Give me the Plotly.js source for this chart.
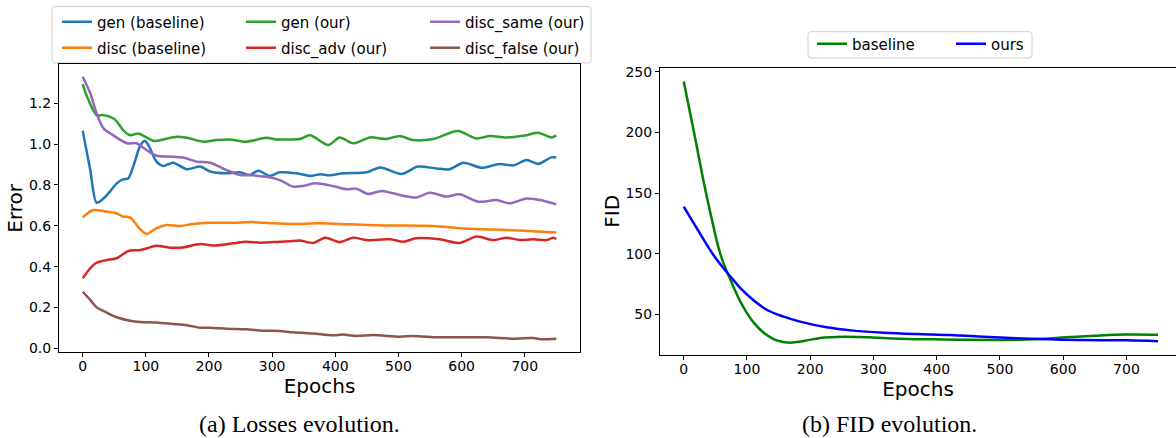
<!DOCTYPE html>
<html>
<head>
<meta charset="utf-8">
<script src="https://cdn.plot.ly/plotly-3.0.1.min.js"></script>
<style>
html,body{margin:0;padding:0;background:#fff;overflow:hidden;}
#chart{width:1176px;height:438px;}
</style>
</head>
<body>
<div id="chart"></div>
<script>
// ---- Losses (left panel) ----
const genBaseX = [0, 12, 22, 33, 43, 54, 64, 72, 80, 91, 98, 104, 117, 128, 143, 165, 186, 202, 228, 249, 265, 278, 296, 312, 339, 360, 376, 391, 413, 450, 471, 505, 531, 560, 581, 603, 632, 660, 682, 703, 721, 742, 750];
const genBaseY = [1.066, 0.873, 0.713, 0.734, 0.767, 0.808, 0.827, 0.832, 0.890, 0.991, 1.017, 0.996, 0.914, 0.893, 0.909, 0.877, 0.890, 0.866, 0.857, 0.862, 0.849, 0.870, 0.844, 0.862, 0.857, 0.844, 0.852, 0.847, 0.857, 0.862, 0.886, 0.854, 0.890, 0.881, 0.877, 0.909, 0.884, 0.903, 0.896, 0.922, 0.903, 0.935, 0.935];

const discBaseX = [0, 17, 38, 51, 64, 75, 91, 101, 117, 133, 154, 175, 202, 238, 270, 301, 333, 376, 423, 476, 555, 597, 634, 671, 713, 750];
const discBaseY = [0.641, 0.677, 0.669, 0.664, 0.645, 0.641, 0.583, 0.560, 0.588, 0.604, 0.599, 0.609, 0.615, 0.615, 0.618, 0.612, 0.609, 0.612, 0.607, 0.602, 0.599, 0.588, 0.583, 0.580, 0.573, 0.567];

const genOurX = [0, 7, 22, 33, 51, 64, 75, 88, 101, 114, 128, 149, 165, 191, 212, 233, 259, 291, 307, 328, 344, 360, 389, 407, 428, 455, 481, 502, 523, 555, 594, 623, 645, 671, 703, 721, 742, 750];
const genOurY = [1.294, 1.232, 1.142, 1.142, 1.121, 1.069, 1.044, 1.052, 1.033, 1.015, 1.023, 1.036, 1.031, 1.012, 1.020, 1.023, 1.012, 1.031, 1.023, 1.023, 1.025, 1.044, 0.996, 1.033, 1.004, 1.033, 1.025, 1.040, 1.020, 1.025, 1.064, 1.028, 1.040, 1.033, 1.044, 1.056, 1.033, 1.043];

const discAdvX = [0, 12, 22, 38, 54, 72, 91, 101, 117, 138, 159, 186, 207, 238, 259, 281, 312, 333, 344, 365, 384, 407, 428, 450, 487, 508, 528, 565, 597, 624, 650, 671, 692, 713, 735, 745, 750];
const discAdvY = [0.343, 0.392, 0.419, 0.432, 0.441, 0.476, 0.481, 0.489, 0.502, 0.493, 0.494, 0.511, 0.504, 0.514, 0.522, 0.517, 0.522, 0.525, 0.528, 0.516, 0.542, 0.520, 0.542, 0.530, 0.534, 0.522, 0.539, 0.534, 0.516, 0.547, 0.530, 0.542, 0.530, 0.534, 0.530, 0.542, 0.535];

const discSameX = [0, 12, 22, 33, 48, 70, 85, 101, 117, 138, 159, 181, 202, 228, 249, 270, 291, 312, 333, 349, 367, 396, 418, 433, 452, 473, 502, 528, 550, 576, 597, 626, 655, 676, 703, 724, 750];
const discSameY = [1.330, 1.249, 1.151, 1.077, 1.044, 1.004, 1.004, 0.971, 0.943, 0.939, 0.934, 0.914, 0.909, 0.873, 0.849, 0.847, 0.840, 0.824, 0.792, 0.795, 0.808, 0.795, 0.779, 0.782, 0.756, 0.771, 0.751, 0.739, 0.762, 0.743, 0.754, 0.718, 0.726, 0.710, 0.734, 0.726, 0.705];

const discFalseX = [0, 12, 22, 38, 54, 75, 91, 117, 143, 165, 186, 207, 228, 259, 286, 312, 333, 365, 396, 412, 433, 460, 502, 523, 565, 639, 682, 713, 729, 750];
const discFalseY = [0.277, 0.237, 0.201, 0.175, 0.152, 0.135, 0.129, 0.126, 0.119, 0.113, 0.101, 0.100, 0.096, 0.093, 0.086, 0.085, 0.078, 0.072, 0.064, 0.067, 0.060, 0.065, 0.057, 0.060, 0.054, 0.054, 0.047, 0.050, 0.044, 0.047];

// ---- FID (right panel) ----
const fidBaseX = [0, 17, 34, 45, 55, 63, 71, 80, 90, 100, 110, 126, 147, 168, 190, 216, 253, 290, 342, 395, 500, 560, 605, 650, 700, 750];
const fidBaseY = [242, 198, 153, 127, 105, 92, 82, 71, 60, 51, 43.5, 35, 28.5, 26.6, 28, 30.5, 31.5, 31, 29.9, 29.3, 28.8, 29.5, 31, 32.3, 33.3, 33];

const fidOursX = [0, 16, 32, 47, 63, 74, 90, 110, 132, 158, 184, 226, 268, 316, 368, 421, 474, 526, 579, 626, 700, 750];
const fidOursY = [138.7, 125.0, 111.2, 98.9, 87.9, 81.0, 71.4, 61.8, 53.5, 48.0, 43.9, 39.2, 36.5, 34.8, 33.7, 32.9, 31.5, 30.2, 29.3, 28.8, 28.5, 27.8];

const tickVals = [0, 100, 200, 300, 400, 500, 600, 700];
const lossTicks = [0.0, 0.2, 0.4, 0.6, 0.8, 1.0, 1.2];
const fidTicks = [50, 100, 150, 200, 250];

const W = 1176, H = 438;
const FONT = 'DejaVu Sans, sans-serif';
const LW = 2.5;

function tr(x, y, name, color, legend, xa, ya, sm) {
  return {x: x, y: y, name: name, type: 'scatter', mode: 'lines',
          line: {color: color, width: LW, shape: 'spline', smoothing: sm},
          legend: legend, xaxis: xa, yaxis: ya, hoverinfo: 'skip'};
}

const data = [
  tr(genBaseX, genBaseY, 'gen (baseline)', '#1f77b4', 'legend', 'x', 'y', 0.8),
  tr(discBaseX, discBaseY, 'disc (baseline)', '#ff7f0e', 'legend3', 'x', 'y', 0.8),
  tr(genOurX, genOurY, 'gen (our)', '#2ca02c', 'legend', 'x', 'y', 0.8),
  tr(discAdvX, discAdvY, 'disc_adv (our)', '#d62728', 'legend3', 'x', 'y', 0.8),
  tr(discSameX, discSameY, 'disc_same (our)', '#9467bd', 'legend', 'x', 'y', 0.8),
  tr(discFalseX, discFalseY, 'disc_false (our)', '#8c564b', 'legend3', 'x', 'y', 0.8),
  tr(fidBaseX, fidBaseY, 'baseline', '#008000', 'legend2', 'x2', 'y2', 1),
  tr(fidOursX, fidOursY, 'ours', '#0000ff', 'legend2', 'x2', 'y2', 1)
];

const px = v => v / W;
const py = v => 1 - v / H;

function axisCommon() {
  return {showgrid: false, zeroline: false, showline: true, linecolor: '#000', linewidth: 1,
          ticks: 'outside', ticklen: 4, tickwidth: 1, tickcolor: '#000',
          tickfont: {family: FONT, size: 14, color: '#000'}, automargin: false};
}

function legendCommon(x, y, ew) {
  return {orientation: 'h', x: px(x), y: py(y), xanchor: 'left', yanchor: 'middle',
          xref: 'paper', yref: 'paper',
          bgcolor: 'rgba(0,0,0,0)', borderwidth: 0,
          font: {family: FONT, size: 15, color: '#000'},
          entrywidth: ew, entrywidthmode: 'pixels', itemclick: false, itemdoubleclick: false};
}

const titleFont = {family: FONT, size: 20, color: '#000'};

const layout = {
  width: W, height: H,
  margin: {l: 0, r: 0, t: 0, b: 0, pad: 0},
  paper_bgcolor: '#fff', plot_bgcolor: '#fff',
  showlegend: true,
  xaxis: Object.assign(axisCommon(), {
    domain: [px(59), px(580)], range: [-37.5, 787.5], anchor: 'y', mirror: true,
    tickvals: tickVals, ticklabelstandoff: -3,
    title: {text: 'Epochs', font: titleFont, standoff: 0}
  }),
  yaxis: Object.assign(axisCommon(), {
    domain: [py(352.3), py(64.3)], range: [-0.0196, 1.391], anchor: 'x', mirror: true,
    tickvals: lossTicks, tickformat: '.1f',
    title: {text: 'Error', font: titleFont, standoff: 0}
  }),
  xaxis2: Object.assign(axisCommon(), {
    domain: [px(660), 1], range: [-37.5, 778.4], anchor: 'y2', mirror: true,
    tickvals: tickVals, ticklabelstandoff: -3,
    title: {text: 'Epochs', font: titleFont, standoff: 0}
  }),
  yaxis2: Object.assign(axisCommon(), {
    domain: [py(355), py(67.5)], range: [16.4, 253.5], anchor: 'x2', mirror: false,
    tickvals: fidTicks,
    title: {text: 'FID', font: titleFont, standoff: 0}
  }),
  legend: legendCommon(57, 22, 139),
  legend3: legendCommon(57, 48, 139),
  legend2: legendCommon(812, 44, 94),
  shapes: [],
  annotations: [
    {text: '(a) Losses evolution.', xref: 'paper', yref: 'paper', x: px(299), y: py(424),
     xanchor: 'center', yanchor: 'middle', showarrow: false,
     font: {family: 'Liberation Serif, Times New Roman, serif', size: 24, color: '#000'}},
    {text: '(b) FID evolution.', xref: 'paper', yref: 'paper', x: px(889), y: py(424),
     xanchor: 'center', yanchor: 'middle', showarrow: false,
     font: {family: 'Liberation Serif, Times New Roman, serif', size: 24, color: '#000'}}
  ]
};

// legend frames (rounded boxes) in paper units
function paperRoundRect(x0, y0, x1, y1, r) {
  const rx = r / W, ry = r / H;
  const X0 = px(x0), X1 = px(x1), Y0 = py(y0), Y1 = py(y1);
  return `M${X0 + rx},${Y0} L${X1 - rx},${Y0} Q${X1},${Y0} ${X1},${Y0 - ry} L${X1},${Y1 + ry} Q${X1},${Y1} ${X1 - rx},${Y1} L${X0 + rx},${Y1} Q${X0},${Y1} ${X0},${Y1 + ry} L${X0},${Y0 - ry} Q${X0},${Y0} ${X0 + rx},${Y0} Z`;
}
layout.shapes.push({type: 'path', xref: 'paper', yref: 'paper', layer: 'below',
  path: paperRoundRect(52, 6.5, 591, 63, 3), line: {color: '#d0d0d0', width: 1}, fillcolor: '#fff'});
layout.shapes.push({type: 'path', xref: 'paper', yref: 'paper', layer: 'below',
  path: paperRoundRect(808, 31.7, 1032, 58, 3), line: {color: '#d0d0d0', width: 1}, fillcolor: '#fff'});

Plotly.newPlot('chart', data, layout, {displayModeBar: false, staticPlot: true});
</script>
</body>
</html>
